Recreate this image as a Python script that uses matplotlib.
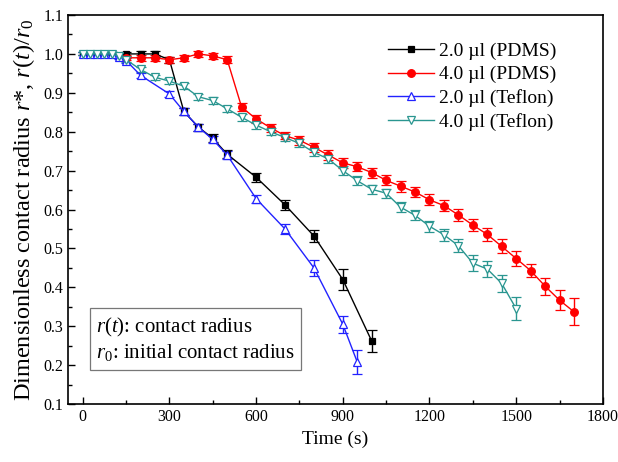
import numpy as np
from matplotlib import pyplot as plt
from matplotlib.ticker import MultipleLocator

plt.rcParams['font.family'] = ['Liberation Serif', 'DejaVu Serif']
plt.rcParams['mathtext.fontset'] = 'custom'
plt.rcParams['mathtext.rm'] = 'Liberation Serif'
plt.rcParams['mathtext.it'] = 'Liberation Serif:italic'

# 2.0 ul on PDMS
black_t = [0, 50, 100, 150, 200, 250, 300, 350, 400, 450, 500, 600, 700, 800, 900, 1000]
black_r = [1.0, 1.0, 1.0, 1.0, 1.0, 1.0, 0.985, 0.852, 0.812, 0.783, 0.742, 0.683,
           0.612, 0.532, 0.420, 0.262]
black_err = [0.004, 0.004, 0.004, 0.005, 0.007, 0.007, 0.008, 0.009, 0.009, 0.01, 0.01,
             0.011, 0.013, 0.015, 0.026, 0.028]

# 4.0 ul on PDMS
red_t = [150, 200, 250, 300, 350, 400, 450, 500, 550, 600, 650, 700, 750, 800, 850, 900,
         950, 1000, 1050, 1100, 1150, 1200, 1250, 1300, 1350, 1400, 1450, 1500, 1550,
         1600, 1650, 1700]
red_r = [0.99, 0.99, 0.99, 0.985, 0.99, 1.0, 0.995, 0.985, 0.863, 0.833, 0.81, 0.79,
         0.778, 0.76, 0.74, 0.72, 0.71, 0.695, 0.675, 0.66, 0.645, 0.625, 0.61, 0.586,
         0.56, 0.536, 0.505, 0.474, 0.443, 0.403, 0.367, 0.337]
red_err = [0.006, 0.007, 0.007, 0.008, 0.007, 0.007, 0.008, 0.009, 0.01, 0.01, 0.01, 0.01,
           0.011, 0.011, 0.012, 0.012, 0.012, 0.013, 0.013, 0.014, 0.014, 0.014, 0.015,
           0.015, 0.016, 0.016, 0.018, 0.019, 0.017, 0.022, 0.026, 0.035]

# 2.0 ul on Teflon
blue_t = [0, 25, 50, 75, 100, 125, 150, 200, 300, 350, 400, 450, 500, 600, 700, 800, 900, 950]
blue_r = [1.0, 1.0, 1.0, 1.0, 1.0, 0.992, 0.983, 0.945, 0.897, 0.852, 0.812, 0.78, 0.74,
          0.628, 0.55, 0.45, 0.305, 0.208]
blue_err = [0.004, 0.004, 0.004, 0.004, 0.004, 0.005, 0.006, 0.007, 0.008, 0.008, 0.009,
            0.009, 0.01, 0.01, 0.014, 0.02, 0.022, 0.03]

# 4.0 ul on Teflon
teal_t = [0, 25, 50, 75, 100, 125, 150, 200, 250, 300, 350, 400, 450, 500, 550, 600, 650,
          700, 750, 800, 850, 900, 950, 1000, 1050, 1100, 1150, 1200, 1250, 1300, 1350,
          1400, 1450, 1500]
teal_r = [1.0, 1.0, 1.0, 1.0, 1.0, 0.995, 0.985, 0.96, 0.94, 0.93, 0.917, 0.89, 0.88,
          0.859, 0.837, 0.817, 0.80, 0.785, 0.77, 0.747, 0.73, 0.70, 0.674, 0.652, 0.642,
          0.606, 0.585, 0.557, 0.535, 0.507, 0.462, 0.447, 0.41, 0.345]
teal_err = [0.004, 0.004, 0.004, 0.004, 0.004, 0.005, 0.005, 0.006, 0.006, 0.007, 0.007,
            0.008, 0.008, 0.008, 0.009, 0.009, 0.009, 0.01, 0.01, 0.01, 0.011, 0.011,
            0.012, 0.012, 0.012, 0.013, 0.013, 0.014, 0.015, 0.017, 0.02, 0.02, 0.022, 0.03]

fig = plt.figure(figsize=(6.18, 4.62), dpi=100)
ax = fig.add_axes([0.1105, 0.1255, 0.865, 0.842])

series = [
    (black_t, black_r, black_err, '#000000', 's', '#000000', 4.5, '2.0 \u00b5l (PDMS)'),
    (red_t, red_r, red_err, '#ff0000', 'o', '#ff0000', 5.5, '4.0 \u00b5l (PDMS)'),
    (blue_t, blue_r, blue_err, '#2222ff', '^', 'white', 6, '2.0 \u00b5l (Teflon)'),
    (teal_t, teal_r, teal_err, '#2a9690', 'v', 'white', 6, '4.0 \u00b5l (Teflon)'),
]
for t, r, err, col, mk, face, ms, lab in series:
    ax.errorbar(t, r, yerr=err, color=col, ecolor=col, marker=mk, markerfacecolor=face,
                markeredgecolor=col, markersize=ms, markeredgewidth=0.9, linewidth=1.0,
                elinewidth=1.0, capsize=3.5, capthick=1.0, label=lab)

ax.set_xlim(-50, 1800)
ax.set_ylim(0.1, 1.1)
ax.xaxis.set_major_locator(MultipleLocator(300))
ax.xaxis.set_minor_locator(MultipleLocator(150))
ax.yaxis.set_major_locator(MultipleLocator(0.1))
ax.yaxis.set_minor_locator(MultipleLocator(0.05))
ax.yaxis.set_major_formatter(plt.FormatStrFormatter('%.1f'))
ax.tick_params(which='both', direction='in', top=False, right=False, labelsize=11.5,
               width=1.0)
ax.tick_params(which='major', length=5)
ax.tick_params(which='minor', length=3)
for sp in ax.spines.values():
    sp.set_linewidth(1.2)

ax.set_xlabel('Time (s)', fontsize=14, labelpad=4)
ax.set_ylabel(r'Dimensionless contact radius $r$*, $r$($t$)/$r$$_0$', fontsize=17.5,
              labelpad=5)

handles, labels = ax.get_legend_handles_labels()
handles = [h[0] for h in handles]
ax.legend(handles, labels, loc='upper left', bbox_to_anchor=(0.565, 0.975), frameon=False,
          fontsize=14, handlelength=2.4, handletextpad=0.25, labelspacing=0.3)

ax.text(0.052, 0.165, '$r$($t$): contact radius\n$r$$_0$: initial contact radius',
        transform=ax.transAxes, fontsize=15, linespacing=1.2, va='center', ha='left',
        bbox=dict(boxstyle='square,pad=0.3', facecolor='white', edgecolor='#777777',
                  linewidth=0.9))

fig.savefig('out.png', dpi=100)
